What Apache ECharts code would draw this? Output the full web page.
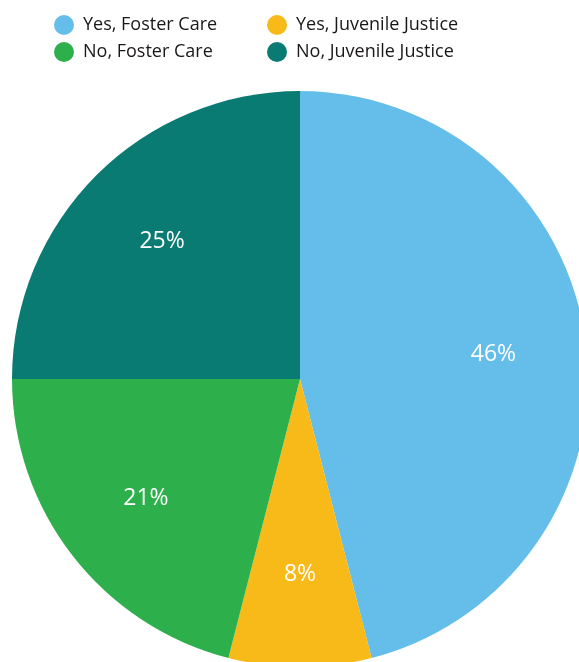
<!DOCTYPE html>
<html>
<head>
<meta charset="utf-8">
<script src="https://cdn.jsdelivr.net/npm/echarts@6/dist/echarts.min.js"></script>
<style>
  html, body { margin: 0; padding: 0; background: #fff; }
  #chart { width: 579px; height: 662px; }
</style>
</head>
<body>
<div id="chart"></div>
<script>
// Share of youth by system involvement
const categories = ['Yes, Foster Care', 'Yes, Juvenile Justice', 'No, Foster Care', 'No, Juvenile Justice'];
const values = [46, 8, 21, 25];
const colors = ['#65BEEA', '#F8BA19', '#2DB04B', '#0A7B72'];

const pieData = categories.map((name, i) => ({
  name: name,
  value: values[i],
  itemStyle: { color: colors[i] }
}));

const legendText = {
  fontFamily: 'Open Sans',
  fontSize: 18,
  color: '#1A1718',
  padding: [2, 0, 0, 4]
};

const legendBase = {
  orient: 'vertical',
  top: 10,
  icon: 'circle',
  itemWidth: 20,
  itemHeight: 20,
  itemGap: 7,
  selectedMode: false,
  textStyle: legendText
};

const chart = echarts.init(document.getElementById('chart'), null, { renderer: 'canvas' });
chart.setOption({
  animation: false,
  legend: [
    Object.assign({}, legendBase, { left: 49, data: [categories[0], categories[2]] }),
    Object.assign({}, legendBase, { left: 262, data: [categories[1], categories[3]] })
  ],
  series: [
    {
      type: 'pie',
      center: [300, 379],
      radius: [0, 288],
      startAngle: 90,
      clockwise: true,
      label: { show: false },
      labelLine: { show: false },
      emphasis: { disabled: true },
      itemStyle: { borderWidth: 0 },
      data: pieData
    },
    {
      // label ring: same slices, transparent, so labels sit at ~2/3 of the radius
      type: 'pie',
      center: [300, 379],
      radius: [96, 288],
      startAngle: 90,
      clockwise: true,
      silent: true,
      legendHoverLink: false,
      emphasis: { disabled: true },
      itemStyle: { color: 'rgba(0,0,0,0)', borderWidth: 0 },
      label: {
        show: true,
        position: 'inside',
        formatter: '{c}%',
        color: '#ffffff',
        fontFamily: 'Open Sans',
        fontSize: 23,
        fontWeight: 'normal'
      },
      labelLine: { show: false },
      data: categories.map((name, i) => ({ name: name + ' ', value: values[i] }))
    }
  ]
});
</script>
</body>
</html>
